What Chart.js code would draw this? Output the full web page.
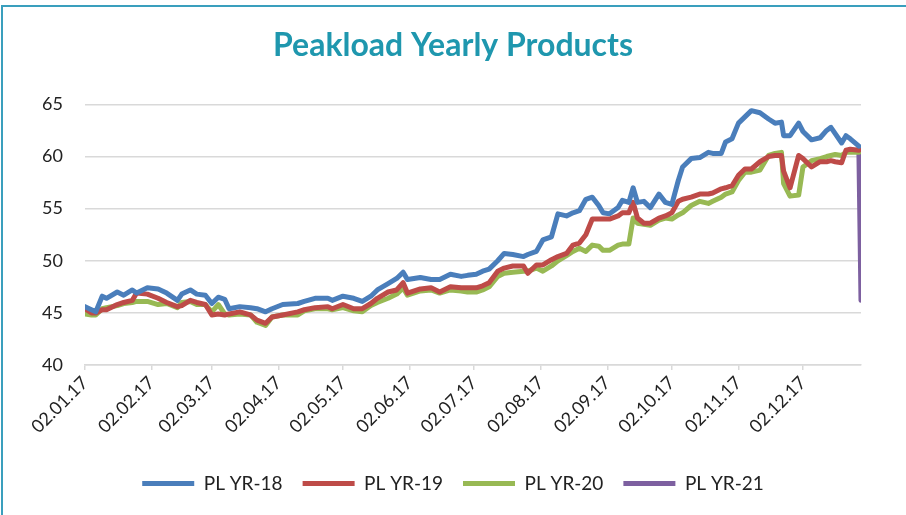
<!DOCTYPE html>
<html>
<head>
<meta charset="utf-8">
<script src="https://cdn.jsdelivr.net/npm/chart.js@4.4.1/dist/chart.umd.min.js"></script>
<style>
  html,body{margin:0;padding:0;background:#fff;overflow:hidden;}
  .frame{position:absolute;left:1px;top:5px;width:1000px;height:1000px;border:2px solid #3a9fbd;}
  #myChart{position:absolute;left:0;top:0;}
</style>
</head>
<body>
<div class="frame"></div>
<canvas id="myChart" width="906" height="515"></canvas>
<script>
// days counted from 02.01.17
var monthTicks = [0,31,59,90,120,151,181,212,243,273,304,334];
var monthLabels = ['02.01.17','02.02.17','02.03.17','02.04.17','02.05.17','02.06.17','02.07.17','02.08.17','02.09.17','02.10.17','02.11.17','02.12.17'];

var days = [0,3,5,8,10,15,18,22,24,29,
  34,38,43,45,49,52,56,59,62,65,
  67,72,77,80,84,87,92,99,102,107,
  113,115,120,125,129,133,136,141,145,148,
  150,156,161,165,170,175,178,182,185,188,
  192,195,199,204,206,210,213,217,220,224,
  227,230,233,236,239,241,244,248,250,253,
  255,257,260,263,267,270,273,276,278,282,
  286,290,292,296,298,301,304,307,310,314,
  318,321,324,325,328,332,334,338,342,345,
  347,349,352,354,356,360,361];

var yr18 = [45.6,45.3,45.1,46.6,46.4,47.0,46.7,47.2,46.9,47.4,
  47.3,46.9,46.2,46.8,47.2,46.8,46.7,45.9,46.5,46.3,
  45.4,45.6,45.5,45.4,45.1,45.4,45.8,45.9,46.1,46.4,
  46.4,46.2,46.6,46.4,46.1,46.6,47.2,47.8,48.3,48.9,
  48.2,48.4,48.2,48.2,48.7,48.5,48.6,48.7,49.0,49.2,
  50.0,50.7,50.6,50.4,50.6,50.9,52.0,52.3,54.5,54.3,
  54.6,54.8,55.9,56.1,55.3,54.6,54.5,55.1,55.8,55.6,
  57.0,55.6,55.7,55.1,56.4,55.6,55.4,57.7,59.0,59.8,
  59.9,60.4,60.3,60.3,61.4,61.7,63.2,63.8,64.4,64.2,
  63.6,63.2,63.3,62.0,62.0,63.2,62.4,61.6,61.8,62.5,
  62.8,62.2,61.3,62.0,61.7,61.0,null];

var yr19 = [45.4,45.0,45.0,45.3,45.3,45.8,46.0,46.2,46.9,46.8,
  46.4,46.0,45.6,45.7,46.2,46.0,45.8,44.8,44.9,44.8,
  44.9,45.1,44.8,44.3,44.0,44.6,44.8,45.1,45.3,45.5,
  45.6,45.4,45.8,45.4,45.4,45.9,46.4,47.0,47.2,47.9,
  46.9,47.3,47.4,47.0,47.5,47.4,47.4,47.4,47.6,47.9,
  49.0,49.3,49.5,49.5,48.8,49.6,49.6,50.1,50.4,50.7,
  51.5,51.7,52.5,54.0,54.0,54.0,54.0,54.3,54.6,54.6,
  55.6,54.1,53.6,53.6,54.1,54.3,54.6,55.7,55.9,56.1,
  56.4,56.4,56.5,56.9,57.0,57.2,58.2,58.8,58.8,59.5,
  60.0,60.1,60.1,58.6,57.0,60.1,59.8,59.0,59.5,59.5,
  59.6,59.5,59.4,60.6,60.7,60.6,null];

var yr20 = [44.9,44.8,44.8,45.4,45.5,45.7,45.9,46.0,46.1,46.1,
  45.8,45.9,45.5,46.0,46.1,45.8,45.8,45.1,45.8,44.9,
  44.8,44.9,44.8,44.1,43.8,44.6,44.8,44.8,45.2,45.4,
  45.4,45.3,45.5,45.2,45.1,45.7,46.0,46.4,46.8,47.4,
  46.7,47.1,47.2,46.9,47.2,47.1,47.0,47.0,47.2,47.5,
  48.5,48.8,48.9,49.0,49.0,49.3,49.0,49.5,50.0,50.5,
  50.9,51.2,50.9,51.5,51.4,51.0,51.0,51.5,51.6,51.6,
  54.1,53.6,53.5,53.4,53.9,54.1,54.0,54.4,54.6,55.3,
  55.7,55.5,55.7,56.1,56.4,56.6,57.7,58.5,58.5,58.7,
  60.1,60.3,60.4,57.4,56.2,56.3,59.0,59.6,59.8,60.0,
  60.1,60.2,60.1,60.4,60.4,60.4,null];

var yr21 = [];
for (var i=0;i<days.length;i++) yr21.push(null);
yr21[105] = 60.8;
yr21[106] = 46.2;

var yTicks = [40,45,50,55,60,65];

function pts(vals){
  return days.map(function(d,i){ return {x:d, y:vals[i]}; });
}

var fontFam = "Lato, 'Liberation Sans', sans-serif";

var lineChart = new Chart(document.getElementById('myChart'), {
  type: 'line',
  data: {
    datasets: [
      {label:'PL YR-18', data:pts(yr18), borderColor:'#4a7ebb', backgroundColor:'#4a7ebb'},
      {label:'PL YR-19', data:pts(yr19), borderColor:'#be4b48', backgroundColor:'#be4b48'},
      {label:'PL YR-20', data:pts(yr20), borderColor:'#98b954', backgroundColor:'#98b954'},
      {label:'PL YR-21', data:pts(yr21), borderColor:'#7d60a0', backgroundColor:'#7d60a0'}
    ]
  },
  options: {
    responsive:false,
    animation:false,
    parsing:false,
    elements:{
      line:{borderWidth:5, tension:0, borderCapStyle:'round', borderJoinStyle:'round'},
      point:{radius:0}
    },
    layout:{padding:{top:15,right:0,bottom:12,left:0}},
    plugins:{
      title:{
        display:true,
        text:'Peakload Yearly Products',
        color:'#1f97ae',
        font:{family:fontFam, size:32, weight:'bold'},
        padding:{top:11, bottom:40}
      },
      legend:{
        position:'bottom',
        labels:{
          color:'#222',
          font:{family:fontFam, size:19},
          boxWidth:52,
          boxHeight:5,
          padding:20,
          generateLabels:function(chart){
            var items = Chart.defaults.plugins.legend.labels.generateLabels(chart);
            items.forEach(function(it){ it.fillStyle = it.strokeStyle; it.lineWidth = 0; });
            return items;
          }
        }
      },
      tooltip:{enabled:false}
    },
    scales:{
      x:{
        type:'linear',
        min:0,
        max:361,
        afterBuildTicks:function(scale){
          scale.ticks = monthTicks.map(function(v){ return {value:v}; });
        },
        afterFit:function(scale){ scale.height = 89; },
        ticks:{
          autoSkip:false,
          minRotation:45,
          maxRotation:45,
          color:'#222',
          font:{family:fontFam, size:18},
          padding:2,
          callback:function(v){
            var i = monthTicks.indexOf(v);
            return i>=0 ? monthLabels[i] : '';
          }
        },
        grid:{drawOnChartArea:false, drawTicks:true, tickLength:5, color:'#d9d9d9', lineWidth:1.5},
        border:{display:true, color:'#d9d9d9', width:1.5}
      },
      y:{
        min:40,
        max:65,
        afterBuildTicks:function(scale){
          scale.ticks = yTicks.map(function(v){ return {value:v}; });
        },
        afterFit:function(scale){ scale.width = 85; },
        ticks:{
          color:'#222',
          font:{family:fontFam, size:18},
          padding:22
        },
        grid:{color:'#d9d9d9', lineWidth:1.5, drawTicks:false},
        border:{display:false}
      },
      // empty right-hand spacer so title and legend centre on the full width
      yRight:{
        position:'right',
        min:40,
        max:65,
        afterFit:function(scale){ scale.width = 45; },
        ticks:{display:false},
        grid:{drawOnChartArea:false, drawTicks:false},
        border:{display:false}
      }
    }
  }
});
</script>
</body>
</html>
